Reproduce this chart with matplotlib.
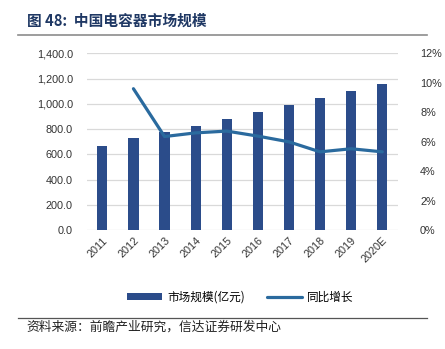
import matplotlib.pyplot as plt
from matplotlib.lines import Line2D
from matplotlib.patches import Patch
from matplotlib.ticker import FuncFormatter, MultipleLocator

plt.rcParams['font.family'] = ['Liberation Sans', 'Noto Sans CJK SC', 'DejaVu Sans']

years = ["2011", "2012", "2013", "2014", "2015", "2016", "2017", "2018", "2019", "2020E"]
market_size = [664, 726, 774, 823, 879, 936, 991, 1044, 1100, 1157]
growth = [None, 9.6, 6.35, 6.6, 6.72, 6.38, 5.99, 5.31, 5.52, 5.31]

bar_color = "#2b4c8a"
line_color = "#2a6a9e"
text_color = "#333333"

fig = plt.figure(figsize=(4.45, 3.49), dpi=100)
ax = fig.add_axes([0.195, 0.341, 0.699, 0.506])
ax2 = ax.twinx()

x = list(range(len(years)))
ax.bar(x, market_size, width=0.33, color=bar_color, zorder=2)

gx = [i for i, g in zip(x, growth) if g is not None]
gy = [g for g in growth if g is not None]
ax2.plot(gx, gy, color=line_color, linewidth=2.3, solid_capstyle="round", zorder=3)

ax.set_xlim(-0.5, len(years) - 0.5)
ax.set_ylim(0, 1400)
ax.yaxis.set_major_locator(MultipleLocator(200))
ax.yaxis.set_major_formatter(FuncFormatter(lambda v, p: f"{v:,.1f}"))
ax2.set_ylim(0, 12)
ax2.yaxis.set_major_locator(MultipleLocator(2))
ax2.yaxis.set_major_formatter(FuncFormatter(lambda v, p: f"{v:.0f}%"))

ax.set_xticks(x)
ax.set_xticklabels(years, rotation=45, ha="right", rotation_mode="anchor")
ax.grid(axis="y", color="#d9d9d9", linewidth=0.9, zorder=0)
ax.set_axisbelow(True)

for a in (ax, ax2):
    for s in a.spines.values():
        s.set_visible(False)
    a.tick_params(length=0, labelsize=7.8, colors=text_color)
ax.tick_params(axis="y", pad=10)
ax.tick_params(axis="x", pad=4)
ax2.tick_params(axis="y", pad=16)

# title block
fig.text(0.06, 0.942, "图 48:  中国电容器市场规模", fontsize=10.6, fontweight="bold",
         color="#1f3864", family=["Noto Sans CJK SC"], va="center")
fig.add_artist(Line2D([0.04, 0.96], [0.9, 0.9], color="#8c8c8c", linewidth=1.2))

handles = [Patch(facecolor=bar_color, edgecolor="none"),
           Line2D([0], [0], color=line_color, linewidth=2.3, solid_capstyle="round")]
fig.legend(handles, ["市场规模(亿元)", "同比增长"], loc="center", bbox_to_anchor=(0.54, 0.149),
           ncol=2, frameon=False, handlelength=3.0, handleheight=0.5,
           columnspacing=1.9, handletextpad=0.4, prop={"family": ["Noto Sans CJK SC"], "size": 8.4})

fig.add_artist(Line2D([0.04, 0.96], [0.088, 0.088], color="#555555", linewidth=0.9))
fig.text(0.06, 0.062, "资料来源：前瞻产业研究，信达证券研发中心", fontsize=9.2,
         color="#222222", family=["Noto Sans CJK SC"], va="center")

fig.savefig("out.png", dpi=100)
